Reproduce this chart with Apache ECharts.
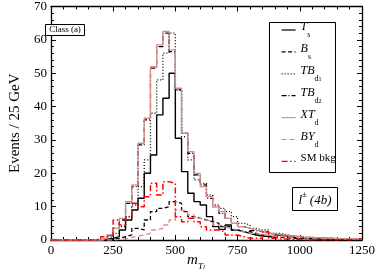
<!DOCTYPE html>
<html><head><meta charset="utf-8">
<script src="https://cdn.jsdelivr.net/npm/echarts@6/dist/echarts.min.js"></script>
<style>html,body{margin:0;padding:0;background:#fff}#c{width:378px;height:273px}</style>
</head><body><div id="c"></div>
<script>
// bin left edges (GeV), 25 GeV bins
const binEdges = [0,25,50,75,100,125,150,175,200,225,250,275,300,325,350,375,400,425,450,475,500,525,550,575,600,625,650,675,700,725,750,775,800,825,850,875,900,925,950,975,1000,1025,1050,1075,1100,1125,1150,1175,1200,1225];
const binEnd = 1250;
const xTicks = [0,250,500,750,1000,1250];
const yTicks = [0,10,20,30,40,50,60,70];

const T_s  = [0,0,0,0,0,0,0,0,0.2,0.5,1,3,6,9,12.5,20,25.5,37.5,42.5,50,30.5,20.5,14,11.5,10.5,7,4,3.2,4.5,3,2.5,2,1.5,1.2,1,0.8,1.5,1.2,0.8,0.6,0.5,0.5,0.3,0.3,0.2,0.2,0.2,0.1,0.1,0.1];
const B_s  = [0,0,0,0,0,0,0,0,0,0.3,0.5,1,1.5,3.5,3,6,8.5,9.5,10,11.5,11,8.5,7,6.5,6,5.5,5,4,4,3,2.5,2.5,2,1.5,1.2,1,0.8,0.7,0.5,0.5,0.4,0.4,0.3,0.3,0.2,0.2,0.2,0.1,0.1,0.1];
const TB_d1 = [0,0,0,0,0,0,0,0,0.3,0.8,2,4,7,10.5,16,24,38,48,56,62,45,31,24,18,17,13.5,10.5,9.5,8.5,7,5,4.5,3.5,3,3,2,2,1.5,1.2,1,0.8,0.8,0.6,0.5,0.5,0.4,0.3,0.3,0.2,0.2];
const TB_d2 = [0,0,0,0,0,0,0,0,0.4,1.3,3.5,6,11,16,28.5,36,51.5,58,62,56.5,45,32,26,19.5,16.5,12.5,10,8,6.5,5,4,3.5,2.8,2.5,2,1.8,1.5,1.3,1.2,1,0.8,0.7,0.7,0.6,0.5,0.4,0.4,0.3,0.3,0.2];
const XT_d = [0,0,0,0,0,0,0,0,0.5,1.5,3.5,6.5,11.5,16.5,29,36.5,52,58.5,62.5,57,45.5,32,26.5,20,16,13,10,8.5,6.5,5,4,3.5,3,2.5,2,2,1.5,1.5,1.2,1,0.8,0.8,0.7,0.6,0.5,0.5,0.4,0.4,0.3,0.3];
const BY_d = [0,0,0,0,0,0,0,0,0,0,0.2,0.3,0.8,1.2,1.5,2,3,3.5,4.5,6,9,8.5,7.5,6.5,6,5.5,4.5,4,3.5,3,2.5,2,2,1.5,1.5,1.2,1,1,0.8,0.7,0.6,0.6,0.5,0.5,0.4,0.4,0.3,0.3,0.3,0.2];
const SM_bkg = [0,0,0,0,0,0,0,0.3,1,1.5,6,4.5,7,11,10,13,17,13.5,17.5,17,7,5.5,6.5,5.5,4,3,3,2.5,1.5,1.5,1,0.5,0.5,0.5,2.5,0.5,0.3,0.3,0.2,0.2,0.1,0.1,0.1,0.1,0.1,0.1,0.1,0.1,0.1,0.3];

const FONT = 'Liberation Serif';
const PINK = '#d48c8c';
const seriesDefs = [
  {name:'T_s',   data:T_s,   color:'#000', type:'solid', width:1.4, label:'{i|T}{s|s}'},
  {name:'B_s',   data:B_s,   color:'#000', type:[4,2.5], width:1.3, label:'{i|B}{s|s}'},
  {name:'TB_d1', data:TB_d1, color:'#000', type:[1,2], width:1.3, label:'{i|TB}{s|d}{ss|1}'},
  {name:'TB_d2', data:TB_d2, color:'#000', type:[5,2,1,2], width:1.3, label:'{i|TB}{s|d}{ss|2}'},
  {name:'XT_d',  data:XT_d,  color:PINK, type:'solid', width:1.3, label:'{i|XT}{s|d}'},
  {name:'BY_d',  data:BY_d,  color:PINK, type:[5,3], width:1.3, label:'{i|BY}{s|d}'},
  {name:'SM bkg',data:SM_bkg,color:'#ff0000', type:[6,2.5,1.5,2.5], width:1.5, label:'{n|SM bkg}'}
];
function stepData(vals){
  const d = binEdges.map((e,i)=>[e, vals[i]]);
  d.push([binEnd, vals[vals.length-1]]);
  return d;
}
const labelMap = {};
seriesDefs.forEach(s=>labelMap[s.name]=s.label);

const chart = echarts.init(document.getElementById('c'), null, {renderer:'canvas'});
const axisCommon = {
  axisLine:{show:true, onZero:false, lineStyle:{color:'#000', width:1.3}},
  axisTick:{show:true, inside:true, length:5, lineStyle:{color:'#000', width:1}},
  minorTick:{show:true, splitNumber:5, length:3, lineStyle:{color:'#000', width:1}},
  splitLine:{show:false}
};
const fmt = v => String(v);
const option = {
  animation:false,
  backgroundColor:'#fff',
  textStyle:{fontFamily:FONT},
  grid:{left:30, right:11, top:6.5, bottom:33, containLabel:false},
  xAxis:[
    Object.assign({type:'value', min:xTicks[0], max:xTicks[xTicks.length-1], interval:250, position:'bottom',
      axisLabel:{show:true, color:'#000', fontFamily:FONT, fontSize:13, margin:4, formatter:fmt}}, axisCommon),
    Object.assign({type:'value', min:xTicks[0], max:xTicks[xTicks.length-1], interval:250, position:'top',
      axisLabel:{show:false}}, axisCommon)
  ],
  yAxis:[
    Object.assign({type:'value', min:yTicks[0], max:yTicks[yTicks.length-1], interval:10, position:'left',
      name:'Events / 25 GeV', nameLocation:'middle', nameGap:14,
      nameTextStyle:{color:'#000', fontFamily:FONT, fontSize:15},
      axisLabel:{show:true, color:'#000', fontFamily:FONT, fontSize:13, margin:4, formatter:fmt}}, axisCommon),
    Object.assign({type:'value', min:yTicks[0], max:yTicks[yTicks.length-1], interval:10, position:'right',
      axisLabel:{show:false}}, axisCommon)
  ],
  legend:{
    orient:'vertical', left:281, top:21, padding:0, itemGap:3.9,
    itemWidth:14, itemHeight:10,
    itemStyle:{opacity:0, borderWidth:0},
    lineStyle:{width:1.2},
    data:seriesDefs.map(s=>s.name),
    formatter:name=>labelMap[name],
    textStyle:{color:'#000', fontFamily:FONT, fontSize:12,
      rich:{
        i:{fontFamily:FONT, fontStyle:'italic', fontSize:12, lineHeight:18, verticalAlign:'top', color:'#000'},
        n:{fontFamily:FONT, fontSize:11, lineHeight:18, verticalAlign:'top', color:'#000'},
        s:{fontFamily:FONT, fontSize:8, lineHeight:8, verticalAlign:'bottom', color:'#000'},
        ss:{fontFamily:FONT, fontSize:6, lineHeight:4, verticalAlign:'bottom', color:'#000'}
      }}
  },
  graphic:[
    {type:'rect', shape:{x:269.5, y:22.5, width:66, height:150}, style:{fill:'none', stroke:'#000', lineWidth:1}, z:50},
    {type:'rect', shape:{x:45.5, y:24.5, width:39, height:11}, style:{fill:'#fff', stroke:'#000', lineWidth:1}, z:50},
    {type:'text', x:65, y:30, style:{text:'Class (a)', fontFamily:FONT, fontSize:9, fill:'#000', align:'center', verticalAlign:'middle'}, z:51},
    {type:'rect', shape:{x:292.5, y:187.5, width:45, height:23}, style:{fill:'#fff', stroke:'#000', lineWidth:1}, z:50},
    {type:'text', x:315, y:199, style:{text:'{l|l}{p|±}{r| (4b)}', align:'center', verticalAlign:'middle',
      rich:{
        l:{fontFamily:FONT, fontStyle:'italic', fontSize:13, lineHeight:16, verticalAlign:'bottom', fill:'#000'},
        p:{fontFamily:FONT, fontSize:8, lineHeight:16, verticalAlign:'top', fill:'#000'},
        r:{fontFamily:FONT, fontStyle:'italic', fontSize:13, lineHeight:16, verticalAlign:'bottom', fill:'#000'}
      }}, z:51},
    {type:'text', x:196, y:262, style:{text:'{m|m}{t|T}{l|l}', align:'center', verticalAlign:'middle',
      rich:{
        m:{fontFamily:FONT, fontStyle:'italic', fontSize:15, lineHeight:18, verticalAlign:'top', fill:'#000'},
        t:{fontFamily:FONT, fontStyle:'italic', fontSize:9, lineHeight:8, verticalAlign:'bottom', fill:'#000'},
        l:{fontFamily:FONT, fontStyle:'italic', fontSize:7, lineHeight:2, verticalAlign:'bottom', fill:'#000'}
      }}, z:51}
  ],
  series:seriesDefs.map((s,k)=>({
    name:s.name, type:'line', step:'end', symbol:'none', showSymbol:false,
    data:stepData(s.data), z:2+k,
    itemStyle:{color:s.color},
    lineStyle:{color:s.color, width:s.width, type:s.type}
  }))
};
chart.setOption(option);
</script></body></html>
